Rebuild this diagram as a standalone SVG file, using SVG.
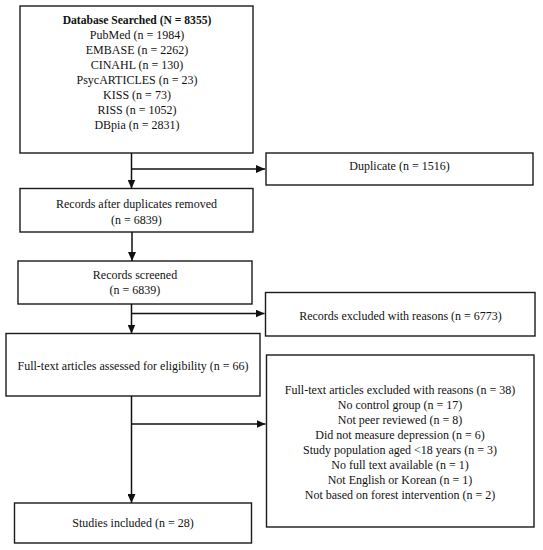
<svg xmlns="http://www.w3.org/2000/svg" width="543" height="550" viewBox="0 0 543 550">
<style>
.box{fill:#fff;stroke:#1a1a1a;stroke-width:1.4}
.t{font-family:"Liberation Serif","Times New Roman",serif;font-size:12px;fill:#111;text-anchor:middle}
.b{font-weight:bold;font-size:11.6px}
.c{fill:none;stroke:#111;stroke-width:1.5}
</style>
<defs>
<marker id="ah" markerUnits="userSpaceOnUse" markerWidth="9" markerHeight="8" refX="9" refY="4" orient="auto">
<path d="M0,0 L9,4 L0,8 z" fill="#111"/>
</marker>
</defs>
<rect width="543" height="550" fill="#fff"/>
<g id="n1">
<rect class="box" x="20" y="6" width="233" height="147"/>
<text class="t b" x="137" y="23.5">Database Searched (N = 8355)</text>
<text class="t" x="137" y="38.5">PubMed (n = 1984)</text>
<text class="t" x="137" y="53.5">EMBASE (n = 2262)</text>
<text class="t" x="137" y="68.5">CINAHL (n = 130)</text>
<text class="t" x="137" y="83.5">PsycARTICLES (n = 23)</text>
<text class="t" x="137" y="98.5">KISS (n = 73)</text>
<text class="t" x="137" y="113.5">RISS (n = 1052)</text>
<text class="t" x="137" y="128.5">DBpia (n = 2831)</text>
</g>
<g id="n2">
<rect class="box" x="266" y="153" width="267" height="32"/>
<text class="t" x="399.5" y="170">Duplicate (n = 1516)</text>
</g>
<g id="n3">
<rect class="box" x="20" y="188.5" width="233" height="43.5"/>
<text class="t" x="136.5" y="208">Records after duplicates removed</text>
<text class="t" x="136.5" y="223.5">(n = 6839)</text>
</g>
<g id="n4">
<rect class="box" x="18" y="261" width="234" height="43"/>
<text class="t" x="135" y="279">Records screened</text>
<text class="t" x="135" y="294">(n = 6839)</text>
</g>
<g id="n5">
<rect class="box" x="265.5" y="292.5" width="269.5" height="43.5"/>
<text class="t" x="400.5" y="320">Records excluded with reasons (n = 6773)</text>
</g>
<g id="n6">
<rect class="box" x="6" y="333.5" width="254" height="62.5"/>
<text class="t" x="133" y="370">Full-text articles assessed for eligibility (n = 66)</text>
</g>
<g id="n7">
<rect class="box" x="266.5" y="355" width="267.5" height="172"/>
<text class="t" x="400" y="394">Full-text articles excluded with reasons (n = 38)</text>
<text class="t" x="400" y="409">No control group (n = 17)</text>
<text class="t" x="400" y="424">Not peer reviewed (n = 8)</text>
<text class="t" x="400" y="439">Did not measure depression (n = 6)</text>
<text class="t" x="400" y="454">Study population aged &lt;18 years (n = 3)</text>
<text class="t" x="400" y="469">No full text available (n = 1)</text>
<text class="t" x="400" y="484">Not English or Korean (n = 1)</text>
<text class="t" x="400" y="499">Not based on forest intervention (n = 2)</text>
</g>
<g id="n8">
<rect class="box" x="14.5" y="503" width="237" height="40"/>
<text class="t" x="133" y="527">Studies included (n = 28)</text>
</g>
<g id="connectors">
<line class="c" x1="131.5" y1="153" x2="131.5" y2="188.5" marker-end="url(#ah)"/>
<line class="c" x1="131.5" y1="169" x2="265" y2="169" marker-end="url(#ah)"/>
<line class="c" x1="132" y1="232" x2="132" y2="261" marker-end="url(#ah)"/>
<line class="c" x1="131.5" y1="304" x2="131.5" y2="333.5" marker-end="url(#ah)"/>
<line class="c" x1="131.5" y1="313.5" x2="264.5" y2="313.5" marker-end="url(#ah)"/>
<line class="c" x1="131.5" y1="396" x2="131.5" y2="503" marker-end="url(#ah)"/>
<line class="c" x1="131.5" y1="424" x2="265.5" y2="424" marker-end="url(#ah)"/>
</g>
</svg>
